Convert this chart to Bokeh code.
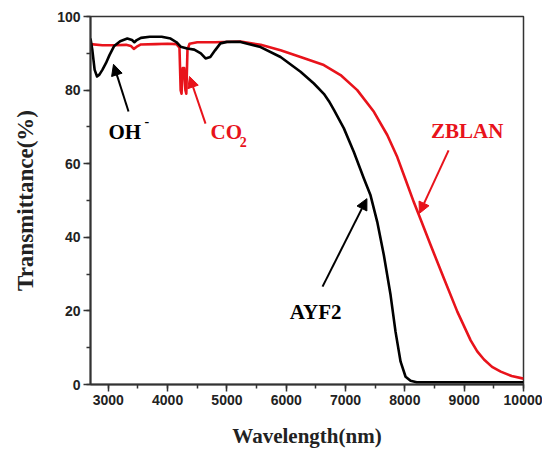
from bokeh.plotting import figure
from bokeh.models import (Range1d, SingleIntervalTicker, Arrow, NormalHead, Label)
from bokeh.embed import file_html
from bokeh.resources import INLINE

# ---- data ----
ayf2_wl = [2700, 2730, 2770, 2810, 2850, 2900, 2960, 3020, 3100, 3200, 3320, 3400,
           3440, 3480, 3550, 3700, 3900, 4050, 4150, 4220, 4330, 4450, 4560, 4640,
           4720, 4800, 4890, 5000, 5230, 5567, 5904, 6241, 6466, 6634, 6720, 6804,
           6972, 7140, 7309, 7421, 7534, 7646, 7759, 7843, 7928, 8012, 8096, 8200,
           9000, 10000]
ayf2_t = [94.0, 91.0, 85.5, 83.7, 84.2, 85.5, 87.3, 89.5, 92.0, 93.3, 94.0, 93.6,
          93.0, 93.6, 94.2, 94.5, 94.5, 94.0, 93.0, 91.8, 91.3, 91.0, 90.0, 88.6,
          89.0, 90.8, 92.7, 93.1, 93.1, 91.7, 89.0, 85.0, 81.8, 79.0, 77.0, 74.6,
          69.6, 63.2, 56.0, 51.4, 44.2, 35.1, 24.3, 14.3, 6.2, 2.1, 1.0, 0.6,
          0.6, 0.6]

zblan_wl = [2700, 2900, 3100, 3300, 3380, 3430, 3480, 3550, 3800, 4000, 4150, 4200,
            4220, 4235, 4255, 4280, 4300, 4315, 4335, 4370, 4500, 4800, 5230, 5570,
            5904, 6241, 6634, 6916, 7197, 7478, 7703, 7872, 8000, 8152, 8250, 8434,
            8659, 8884, 9109, 9220, 9334, 9470, 9616, 9800, 10000]
zblan_t = [92.5, 92.2, 92.2, 92.3, 92.0, 91.2, 91.8, 92.4, 92.5, 92.6, 92.5, 91.5,
           80.0, 79.0, 86.0, 86.0, 80.0, 79.0, 91.0, 92.6, 93.0, 93.0, 93.2, 92.3,
           90.8, 89.0, 86.8, 84.1, 80.0, 74.1, 67.8, 61.8, 56.2, 49.5, 45.5, 37.9,
           28.8, 19.8, 12.0, 9.0, 6.8, 4.8, 3.5, 2.3, 1.6]

x_label = "Wavelength(nm)"
y_label = "Transmittance(%)"

BLACK = "#000000"
RED = "#e8131b"
SERIF = "Liberation Serif"
SANS = "Liberation Sans"

p = figure(width=542, height=453, x_range=Range1d(2700, 10000), y_range=Range1d(0, 100),
           output_backend="svg", toolbar_location=None,
           min_border_left=90, min_border_right=19, min_border_top=16, min_border_bottom=69)
p.background_fill_color = "white"
p.border_fill_color = "white"
p.outline_line_color = "#333333"
p.outline_line_width = 1.5
p.xgrid.visible = False
p.ygrid.visible = False

p.line(zblan_wl, zblan_t, line_color=RED, line_width=2.6, line_join="round")
p.line(ayf2_wl, ayf2_t, line_color=BLACK, line_width=2.6, line_join="round")

p.xaxis.ticker = SingleIntervalTicker(interval=1000, num_minor_ticks=2)
p.yaxis.ticker = SingleIntervalTicker(interval=20, num_minor_ticks=2)
for ax in (p.xaxis, p.yaxis):
    ax.major_tick_out = 7
    ax.major_tick_in = 0
    ax.minor_tick_out = 4
    ax.minor_tick_in = 0
    ax.axis_line_width = 2
    ax.axis_line_color = "#333333"
    ax.major_tick_line_width = 1.5
    ax.minor_tick_line_width = 1.5
    ax.major_tick_line_color = "#333333"
    ax.minor_tick_line_color = "#333333"
    ax.major_label_text_font = SANS
    ax.major_label_text_font_style = "bold"
    ax.major_label_text_font_size = "14px"
    ax.major_label_text_color = "#222222"
    ax.major_label_standoff = 3
    ax.axis_label_text_font = SERIF
    ax.axis_label_text_font_style = "bold"
    ax.axis_label_text_color = "#222222"
p.xaxis.axis_label = x_label
p.yaxis.axis_label = y_label
p.xaxis.axis_label_text_font_size = "21px"
p.yaxis.axis_label_text_font_size = "23px"
p.xaxis.axis_label_standoff = 16
p.yaxis.axis_label_standoff = 16

# ---- annotations ----
def arrow(x0, y0, x1, y1, color):
    p.add_layout(Arrow(end=NormalHead(size=11, fill_color=color, line_color=color, line_width=1),
                       x_start=x0, y_start=y0, x_end=x1, y_end=y1,
                       line_color=color, line_width=2))

def label(x, y, txt, color, size="21px"):
    p.add_layout(Label(x=x, y=y, text=txt, text_color=color, text_font=SERIF,
                       text_font_style="bold", text_font_size=size,
                       text_baseline="middle", text_align="left"))

arrow(3341, 74.2, 3088, 87.0, BLACK)
arrow(4639, 70.9, 4369, 83.7, RED)
arrow(8737, 63.6, 8245, 46.5, RED)
arrow(6612, 26.6, 7360, 50.5, BLACK)

label(3004, 68.5, "OH", BLACK)
label(3610, 71.5, "-", BLACK, "14px")
label(4724, 68.5, "CO", RED)
label(5215, 65.8, "2", RED, "14px")
label(8440, 69.0, "ZBLAN", RED)
label(6060, 19.8, "AYF2", BLACK)

open("out.html", "w").write(file_html(p, INLINE))
